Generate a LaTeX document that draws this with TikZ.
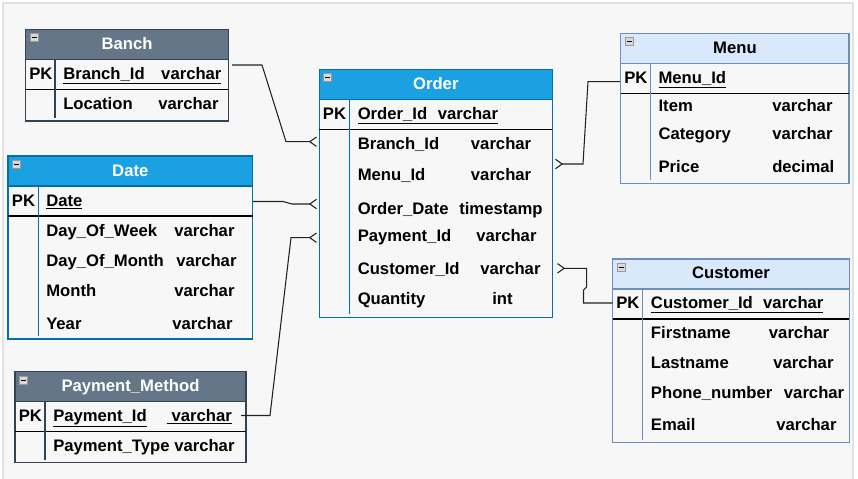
\documentclass[tikz,border=0pt]{standalone}
\usepackage{fontspec}
\setmainfont{Liberation Sans}
\usepackage{tikz}
\usetikzlibrary{arrows.meta}
\definecolor{slatefill}{HTML}{647687}
\definecolor{slateline}{HTML}{314354}
\definecolor{bluefill}{HTML}{1BA1E2}
\definecolor{blueline}{HTML}{006EAF}
\definecolor{palefill}{HTML}{DAE8FC}
\definecolor{paleline}{HTML}{6C8EBF}
\definecolor{sheet}{HTML}{F7F7F7}
\definecolor{sheetedge}{HTML}{E2E2E2}
\definecolor{linkgray}{HTML}{222222}
% table frame: x1, y1, x2, y2, x of PK column, header fill, line colour
\newcommand{\ertable}[7]{%
  \fill[#6] (#1,#2) rectangle (#3,#2+30);
  \draw[#7, line width=0.9pt] (#1,#2) rectangle (#3,#4);
  \draw[#7, line width=0.9pt] (#1,#2+30) -- (#3,#2+30);
  \draw[black, line width=0.9pt] (#1,#2+60) -- (#3,#2+60);
  \draw[#7, line width=0.9pt] (#5,#2+30) -- (#5,#4-3);
  \draw[fill=gray!30, draw=gray!80, line width=0.5pt] (#1+4.5,#2+4.5) rectangle (#1+12.5,#2+12.5);
  \draw[black, line width=1pt] (#1+6,#2+8.5) -- (#1+11,#2+8.5);
}

\begin{document}
\begin{tikzpicture}[x=0.75pt, y=-0.75pt,
  fld/.style={anchor=west, inner sep=0pt, text height=9pt, text depth=0pt,
    font=\fontsize{12.5}{15}\selectfont\bfseries},
  ttl/.style={fld, anchor=center},
  rel/.style={line width=0.8pt, draw=linkgray},
  many/.style={rel, -{Straight Barb[reversed, length=5pt, width=7pt]}}]
\useasboundingbox (0,0) rectangle (858,479);
\fill[white] (0,0) rectangle (858,479);
\filldraw[fill=sheet, draw=sheetedge, line width=1pt] (3,3) rectangle (853,485);

% Banch
\ertable{25.7}{29.3}{228.3}{121}{55}{slatefill}{slateline}
\node[ttl, text=white] (banch) at (127,43.5) {Banch};
\node[fld] (banch-pk) at (29,73.5) {PK};
\node[fld] (banch-id) at (63,73.5) {\underline{\makebox[73.5pt][l]{Branch\_Id}varchar}};
\node[fld] (banch-loc) at (63,103.3) {Location};
\node[fld] (banch-loct) at (158,103.3) {varchar};

% Date
\ertable{8}{156}{252.5}{339}{38.3}{bluefill}{blueline}
\node[ttl, text=white] (date) at (130.3,170.5) {Date};
\node[fld] (date-pk) at (11.7,200.7) {PK};
\node[fld] (date-id) at (46,200.7) {\underline{Date}};
\node[fld] (date-dow) at (46,230.7) {Day\_Of\_Week};
\node[fld] (date-dowt) at (174,230.7) {varchar};
\node[fld] (date-dom) at (46,260.3) {Day\_Of\_Month};
\node[fld] (date-domt) at (176,260.3) {varchar};
\node[fld] (date-mon) at (46,290) {Month};
\node[fld] (date-mont) at (174,290) {varchar};
\node[fld] (date-yr) at (46,323) {Year};
\node[fld] (date-yrt) at (172,323) {varchar};

% Payment_Method
\ertable{15}{371.7}{246}{462.7}{45}{slatefill}{slateline}
\node[ttl, text=white] (pay) at (130.5,385.5) {Payment\_Method};
\node[fld] (pay-pk) at (18.5,415.3) {PK};
\node[fld] (pay-id) at (53,415.3) {\underline{Payment\_Id}};
\node[fld] (pay-idt) at (166.7,415.3) {\underline{\ varchar}};
\node[fld] (pay-type) at (53,445) {Payment\_Type varchar};

% Order
\ertable{319.3}{69.3}{552.3}{317.3}{349.3}{bluefill}{blueline}
\node[ttl, text=white] (order) at (435.8,83.5) {Order};
\node[fld] (order-pk) at (322.7,113.3) {PK};
\node[fld] (order-id) at (357.5,113.3) {\underline{\makebox[60pt][l]{Order\_Id}varchar}};
\node[fld] (order-br) at (357.5,143.3) {Branch\_Id};
\node[fld] (order-brt) at (470.7,143.3) {varchar};
\node[fld] (order-mn) at (357.5,174.3) {Menu\_Id};
\node[fld] (order-mnt) at (470.7,174.3) {varchar};
\node[fld] (order-dt) at (357.5,208.3) {Order\_Date};
\node[fld] (order-dtt) at (459,208.3) {timestamp};
\node[fld] (order-py) at (357.5,235) {Payment\_Id};
\node[fld] (order-pyt) at (476,235) {varchar};
\node[fld] (order-cu) at (357.5,268.3) {Customer\_Id};
\node[fld] (order-cut) at (480,268.3) {varchar};
\node[fld] (order-qt) at (357.5,298.3) {Quantity};
\node[fld] (order-qtt) at (492,298.3) {int};

% Menu
\ertable{620.7}{33.3}{849}{183.3}{650.7}{palefill}{paleline}
\node[ttl] (menu) at (735,47.5) {Menu};
\node[fld] (menu-pk) at (624,77.7) {PK};
\node[fld] (menu-id) at (658.3,77.7) {\underline{Menu\_Id}};
\node[fld] (menu-it) at (658.3,105.7) {Item};
\node[fld] (menu-itt) at (772,105.7) {varchar};
\node[fld] (menu-ca) at (658.3,133.3) {Category};
\node[fld] (menu-cat) at (772,133.3) {varchar};
\node[fld] (menu-pr) at (658.3,166) {Price};
\node[fld] (menu-prt) at (772,166) {decimal};

% Customer
\ertable{612.7}{259}{849.3}{442.7}{642.3}{palefill}{paleline}
\node[ttl] (cust) at (731,272.5) {Customer};
\node[fld] (cust-pk) at (616,302.7) {PK};
\node[fld] (cust-id) at (650.7,302.7) {\underline{\makebox[84.2pt][l]{Customer\_Id}varchar}};
\node[fld] (cust-fn) at (650.7,332.3) {Firstname};
\node[fld] (cust-fnt) at (768.7,332.3) {varchar};
\node[fld] (cust-ln) at (650.7,362.3) {Lastname};
\node[fld] (cust-lnt) at (773,362.3) {varchar};
\node[fld] (cust-ph) at (650.7,392.3) {Phone\_number};
\node[fld] (cust-pht) at (783.7,392.3) {varchar};
\node[fld] (cust-em) at (650.7,424.3) {Email};
\node[fld] (cust-emt) at (776,424.3) {varchar};

% link ends
\coordinate (banch-out) at (232,65);
\coordinate (date-out) at (253,201.5);
\coordinate (pay-out) at (241,415.5);
\coordinate (menu-out) at (620,81.7);
\coordinate (cust-out) at (612.7,303);
\coordinate (order-in-br) at (317,141.7);
\coordinate (order-in-dt) at (317,204);
\coordinate (order-in-py) at (317,237.7);
\coordinate (order-in-mn) at (555,164);
\coordinate (order-in-cu) at (557,268.3);

\draw[many] (banch-out) -- (262,65) -- (286,141.7) -- (order-in-br);
\draw[many] (date-out) -- (283,201.5) -- (292,204) -- (order-in-dt);
\draw[many] (pay-out) -- (270,415.5) -- (291,237.7) -- (order-in-py);
\draw[many] (menu-out) -- (588,81.7) -- (583,164) -- (order-in-mn);
\draw[many] (cust-out) -- (583.5,303) -- (583.5,290) -- (586.7,287) -- (586.7,268.3) -- (order-in-cu);
\end{tikzpicture}
\end{document}
